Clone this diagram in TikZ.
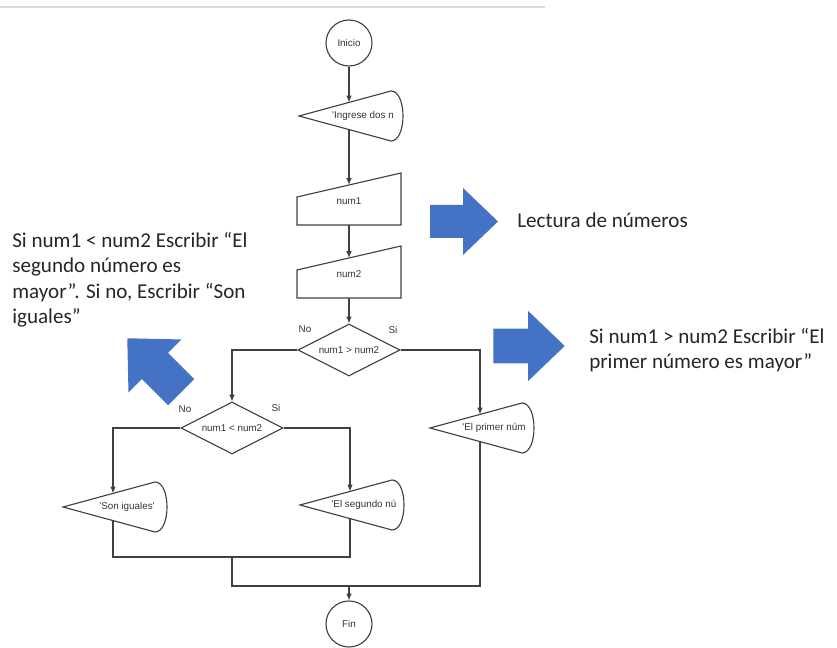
\documentclass[tikz,border=0pt]{standalone}
\usepackage{fontspec}
\newfontfamily\notefont{Carlito}
\newfontfamily\chartfont{Liberation Sans}
\usepackage{tikz}
\usetikzlibrary{arrows.meta,positioning,calc,shapes.geometric}
\usepackage{xcolor}
\definecolor{officeblue}{HTML}{4472C4}
\definecolor{notegray}{HTML}{262626}

\tikzset{
  flow/.style={draw=black!75,line width=0.8pt},
  chart/.style={font=\chartfont\fontsize{7}{8}\selectfont,text=black!80},
  term/.style={circle,flow,chart,minimum size=1.15cm,inner sep=0pt},
  cond/.style={diamond,flow,chart,aspect=2,minimum width=2.55cm,minimum height=1.3cm,inner sep=0pt},
  boxtext/.style={chart,inner sep=0pt},
  lbl/.style={chart,inner sep=0pt},
  note/.style={font=\notefont\fontsize{15}{18}\selectfont,text=notegray,inner sep=0pt}
}

% display shape: node sits at the text, outline drawn round it
\newcommand{\dispbox}[4]{%
  \node[boxtext] (#1) at (#2,#3) {#4};
  \draw[flow] ($(#1)+(-64,0)$) -- ($(#1)+(28,-25)$)
    .. controls ($(#1)+(44,-25)$) and ($(#1)+(44,25)$) .. ($(#1)+(28,25)$) -- cycle;
  \coordinate (#1-in) at ($(#1)+(-14,-13.6)$);
  \coordinate (#1-out) at ($(#1)+(-14,13.6)$);
}
% manual input shape
\newcommand{\inputbox}[4]{%
  \node[boxtext] (#1) at (#2,#3) {#4};
  \draw[flow] ($(#1)+(-52,24)$) -- ($(#1)+(52,24)$) -- ($(#1)+(52,-28)$) -- ($(#1)+(-52,-4)$) -- cycle;
  \coordinate (#1-in) at ($(#1)+(0,-16)$);
  \coordinate (#1-out) at ($(#1)+(0,24)$);
}
\newcommand{\bluearrow}[4]{%
  \fill[officeblue,shift={(#1,#2)},rotate=#3,scale=#4]
    (-33,-16.5) -- (0,-16.5) -- (0,-33.5) -- (35,0) -- (0,33.5) -- (0,16.5) -- (-33,16.5) -- cycle;
}

\begin{document}
\begin{tikzpicture}[x=0.025cm,y=-0.025cm,>={Latex[length=1.7mm,width=1.4mm]}]
\useasboundingbox (0,0) rectangle (837,648);
\draw[black!15,line width=0.8pt] (0,7) -- (545,7);

\node[term] (ini) at (349,43) {Inicio};
\dispbox{ingr}{363}{116}{'Ingrese dos n}
\inputbox{num1}{349}{201}{num1}
\inputbox{num2}{349}{274}{num2}
\node[cond] (dec1) at (349,350) {num1 > num2};
\node[cond] (dec2) at (232,428) {num1 < num2};
\dispbox{primer}{494}{428}{'El primer núm}
\dispbox{iguales}{127}{507}{'Son iguales'}
\dispbox{segundo}{364}{505}{'El segundo nú}
\node[term] (fin) at (349,624) {Fin};

\node[lbl] (d1no) at (305,329) {No};
\node[lbl] (d1si) at (393,330) {Si};
\node[lbl] (d2no) at (185,409) {No};
\node[lbl] (d2si) at (276,408) {Si};

\draw[flow,->] (ini) -- (ingr-in);
\draw[flow,->] (ingr-out) -- (num1-in);
\draw[flow,->] (num1-out) -- (num2-in);
\draw[flow,->] (num2-out) -- (dec1);
\draw[flow,->] (dec1.west) -| (dec2);
\draw[flow,->] (dec1.east) -| (primer-in);
\draw[flow,->] (dec2.west) -| (iguales-in);
\draw[flow,->] (dec2.east) -| (segundo-in);

\coordinate (join1) at (232,557);
\coordinate (join2) at (232,586);
\draw[flow] (iguales-out) |- (join1) -| (segundo-out);
\draw[flow] (join1) -- (join2) -| (primer-out);
\draw[flow,->] (join2 -| fin) -- (fin);

\bluearrow{463}{221.5}{0}{1}
\bluearrow{528}{346}{0}{1.05}
\bluearrow{155}{366}{135}{1.12}

\node[note,anchor=base west] (lectura) at (517,228) {Lectura de números};
\node[note,anchor=north west,align=left] (notemenor) at (12,232)
  {Si num1 < num2 Escribir “El\\segundo número es\\mayor”. Si no, Escribir “Son\\iguales”};
\node[note,anchor=north west,align=left] (notemayor) at (589,328)
  {Si num1 > num2 Escribir “El\\primer número es mayor”};
\end{tikzpicture}
\end{document}
